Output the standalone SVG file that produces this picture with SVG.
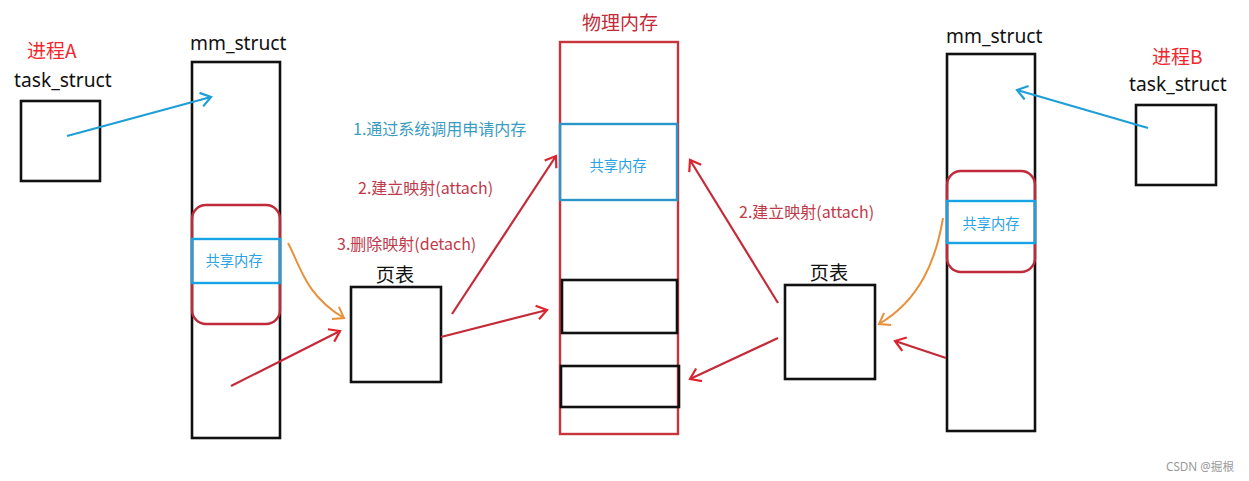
<svg xmlns="http://www.w3.org/2000/svg" width="1249" height="481" viewBox="0 0 1249 481">
<style>
.box{fill:none;stroke:#111;stroke-width:2.6}
.lbl{font-family:"Noto Sans","Noto Sans CJK SC",sans-serif;font-size:19.2px;fill:#111}
.cjk{font-family:"Noto Sans CJK SC",sans-serif}
.red{fill:#f0282e}
.shm{fill:none;stroke:#16a4e4;stroke-width:2.4}
.shmt{font-family:"Noto Sans CJK SC",sans-serif;font-size:14.3px;fill:#2aa2e6}
.rr{fill:none;stroke:#c02a3a;stroke-width:2.4}
.ar{fill:none;stroke:#c42a38;stroke-width:2.2}
.ab{fill:none;stroke:#1e9ed6;stroke-width:2.2}
.ao{fill:none;stroke:#e8903a;stroke-width:2}
.step{font-family:"Noto Sans CJK SC",sans-serif;font-size:16px}
</style>
<defs>
<marker id="mr" markerWidth="16" markerHeight="16" refX="12" refY="8" orient="auto" markerUnits="userSpaceOnUse"><polyline points="2,1 12,8 2,15" fill="none" stroke="#e0222e" stroke-width="2.2"/></marker>
<marker id="mb" markerWidth="16" markerHeight="16" refX="12" refY="8" orient="auto" markerUnits="userSpaceOnUse"><polyline points="2,1 12,8 2,15" fill="none" stroke="#1e9ed6" stroke-width="2.2"/></marker>
<marker id="mo" markerWidth="16" markerHeight="16" refX="12" refY="8" orient="auto" markerUnits="userSpaceOnUse"><polyline points="2,1 12,8 2,15" fill="none" stroke="#e8903a" stroke-width="2"/></marker>
</defs>
<rect width="1249" height="481" fill="#fff"/>

<g id="taskA">
<text x="27" y="58" class="cjk red" font-size="19">进程A</text>
<text x="14" y="87" class="lbl">task_struct</text>
<rect x="21" y="101" width="79" height="80" class="box"/>
</g>

<g id="mmA">
<text x="190" y="50" class="lbl">mm_struct</text>
<rect x="192" y="62" width="88" height="376" class="box"/>
<rect x="192" y="205" width="88" height="119" rx="14" class="rr"/>
<rect x="192" y="239" width="88" height="44" class="shm"/>
<text x="234" y="266" text-anchor="middle" class="shmt">共享内存</text>
</g>

<g id="ptA">
<text x="395" y="282" text-anchor="middle" class="lbl cjk" font-size="19.5">页表</text>
<rect x="351" y="287" width="90" height="95" class="box"/>
</g>

<g id="phys">
<text x="620" y="30" text-anchor="middle" class="cjk" font-size="19" fill="#c42a38">物理内存</text>
<rect x="560" y="42" width="118" height="392" fill="none" stroke="#c8343c" stroke-width="2.4"/>
<rect x="560" y="124" width="117" height="76" fill="none" stroke="#2a96c8" stroke-width="2.4"/>
<text x="618" y="171" text-anchor="middle" class="shmt" font-size="16.4">共享内存</text>
<rect x="562" y="280" width="115" height="53" class="box"/>
<rect x="561" y="366" width="118" height="41" class="box"/>
</g>

<g id="ptB">
<text x="829" y="280" text-anchor="middle" class="lbl cjk" font-size="19.5">页表</text>
<rect x="785" y="285" width="90" height="94" class="box"/>
</g>

<g id="mmB">
<text x="946" y="43" class="lbl">mm_struct</text>
<rect x="947" y="54" width="88" height="377" class="box"/>
<rect x="947" y="171" width="88" height="101" rx="14" class="rr"/>
<rect x="947" y="201" width="88" height="42" class="shm"/>
<text x="991" y="229" text-anchor="middle" class="shmt">共享内存</text>
</g>

<g id="taskB">
<text x="1152" y="64" class="cjk red" font-size="19">进程B</text>
<text x="1129" y="91" class="lbl">task_struct</text>
<rect x="1136" y="105" width="80" height="80" class="box"/>
</g>

<g id="labels">
<text x="353" y="135" class="step" fill="#3a9cc0">1.通过系统调用申请内存</text>
<text x="358" y="194" class="step" fill="#c0394a">2.建立映射(attach)</text>
<text x="337" y="250" class="step" fill="#c0394a">3.删除映射(detach)</text>
<text x="739" y="218" class="step" fill="#c0394a">2.建立映射(attach)</text>
</g>

<g id="connectors">
<line x1="67" y1="136" x2="211" y2="97" class="ab" marker-end="url(#mb)"/>
<line x1="1148" y1="128" x2="1017" y2="90" class="ab" marker-end="url(#mb)"/>
<path d="M288,243 C300,265 305,295 344,318" class="ao" marker-end="url(#mo)"/>
<path d="M943,218 C936,260 920,300 879,324" class="ao" marker-end="url(#mo)"/>
<line x1="231" y1="386" x2="340" y2="331" class="ar" marker-end="url(#mr)"/>
<line x1="452" y1="314" x2="556" y2="156" class="ar" marker-end="url(#mr)"/>
<line x1="441" y1="337" x2="547" y2="310" class="ar" marker-end="url(#mr)"/>
<line x1="778" y1="303" x2="690" y2="160" class="ar" marker-end="url(#mr)"/>
<line x1="778" y1="338" x2="690" y2="379" class="ar" marker-end="url(#mr)"/>
<line x1="946" y1="358" x2="895" y2="341" class="ar" marker-end="url(#mr)"/>
</g>

<text x="1166" y="471" font-family="Noto Sans,Noto Sans CJK SC,sans-serif" font-size="11.7" fill="#9a9a9a">CSDN @掘根</text>
</svg>
